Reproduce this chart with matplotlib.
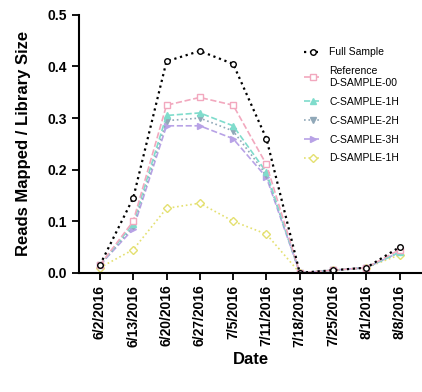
import matplotlib.pyplot as plt
import numpy as np

plt.rcParams['font.family'] = ['Liberation Sans', 'DejaVu Sans']

# === Data ===
dates = ['6/2/2016', '6/13/2016', '6/20/2016', '6/27/2016', '7/5/2016',
         '7/11/2016', '7/18/2016', '7/25/2016', '8/1/2016', '8/8/2016']

full_sample = [0.015, 0.145, 0.41, 0.43, 0.405, 0.26, 0.0, 0.005, 0.01, 0.05]
reference = [0.015, 0.10, 0.325, 0.34, 0.325, 0.21, 0.0, 0.005, 0.01, 0.045]
c_sample_1 = [0.015, 0.095, 0.305, 0.31, 0.285, 0.195, 0.0, 0.005, 0.01, 0.04]
c_sample_2 = [0.015, 0.09, 0.295, 0.30, 0.275, 0.19, 0.0, 0.005, 0.01, 0.04]
c_sample_3 = [0.015, 0.085, 0.285, 0.285, 0.26, 0.185, 0.0, 0.005, 0.01, 0.04]
d_sample = [0.01, 0.045, 0.125, 0.135, 0.10, 0.075, 0.0, 0.005, 0.01, 0.035]

labels = ['Full Sample', 'Reference\nD-SAMPLE-00', 'C-SAMPLE-1H',
          'C-SAMPLE-2H', 'C-SAMPLE-3H', 'D-SAMPLE-1H']

# === Styles ===
styles = [
    dict(color='black', marker='o', ls=':', lw=1.6, mfc='white', ms=4),
    dict(color='#f2a8be', marker='s', ls='--', lw=1.2, mfc='white', ms=5),
    dict(color='#7fdccc', marker='^', ls='--', lw=1.2, mfc='#7fdccc', ms=5),
    dict(color='#90a8b8', marker='v', ls=':', lw=1.2, mfc='#90a8b8', ms=5),
    dict(color='#b8a2e6', marker='>', ls='--', lw=1.2, mfc='#b8a2e6', ms=5),
    dict(color='#e4e070', marker='D', ls=':', lw=1.2, mfc='white', ms=4),
]

series = [full_sample, reference, c_sample_1, c_sample_2, c_sample_3, d_sample]

fig = plt.figure(figsize=(4.22, 3.92), dpi=100)
ax = fig.add_axes([0.187, 0.304, 0.813, 0.658])

x = np.arange(len(dates))
# draw in reverse so black line sits on top
for vals, lab, st in reversed(list(zip(series, labels, styles))):
    ax.plot(x, vals, label=lab, markeredgewidth=1.0, **st)

ax.set_xlim(-0.63, 9.67)
ax.set_ylim(0, 0.5)
ax.set_yticks([0, 0.1, 0.2, 0.3, 0.4, 0.5])
ax.set_yticklabels(['0.0', '0.1', '0.2', '0.3', '0.4', '0.5'], fontweight='bold')
ax.set_xticks(x)
ax.set_xticklabels(dates, rotation=90, fontweight='bold')
ax.tick_params(axis='both', direction='out', width=1.3, length=5, labelsize=10)

for side in ['top', 'right']:
    ax.spines[side].set_visible(False)
for side in ['left', 'bottom']:
    ax.spines[side].set_linewidth(1.5)

ax.set_ylabel('Reads Mapped / Library Size', fontsize=12, fontweight='bold', labelpad=12)
ax.set_xlabel('Date', fontsize=12, fontweight='bold', labelpad=4)

handles, labs = ax.get_legend_handles_labels()
ax.legend(handles[::-1], labs[::-1], loc='upper left', bbox_to_anchor=(0.63, 0.91),
          frameon=False, fontsize=7.5, handlelength=1.6, handletextpad=0.8,
          labelspacing=0.85)

plt.savefig('out.png', dpi=100)
